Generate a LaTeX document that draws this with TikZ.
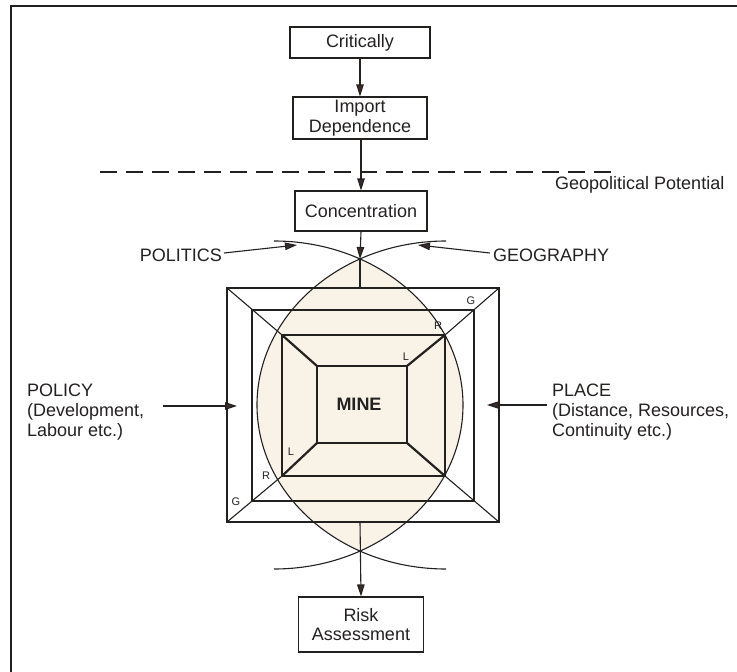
\documentclass[tikz,border=0pt]{standalone}
\usepackage{fontspec}
\setmainfont{Liberation Sans}
\usetikzlibrary{arrows.meta}
\definecolor{ink}{RGB}{35,32,32}
\definecolor{tipc}{RGB}{58,44,40}
\definecolor{lensfill}{RGB}{248,242,231}
\begin{document}
\begin{tikzpicture}[x=1pt,y=-1pt,
  box/.style={draw=ink,line width=1.1pt,align=center,inner sep=0pt,text=ink,
              font=\fontsize{18}{19.5}\selectfont},
  thinline/.style={draw=ink,line width=1.1pt},
  boldline/.style={draw=ink,line width=2.2pt},
  arr/.style={draw=ink,line width=1.1pt,-{Triangle[length=12pt,width=7.5pt,fill=tipc]}},
  lbl/.style={inner sep=0pt,text=ink,align=left,font=\fontsize{18}{20}\selectfont},
  corner/.style={inner sep=0pt,text=ink,font=\fontsize{11}{12}\selectfont}]

\useasboundingbox (0,0) rectangle (737,672);

% frame
\draw[ink,line width=2pt] (11,672) -- (11,6) -- (737,6);

% lens fill
\begin{scope}
  \clip (274,405) ellipse [x radius=189,y radius=164];
  \fill[lensfill] (446,405) ellipse [x radius=189,y radius=164];
\end{scope}

% boxes
\node[box,minimum width=140pt,minimum height=31pt] (crit) at (360,42.5) {Critically};
\node[box,minimum width=134pt,minimum height=42pt] (imp) at (360,118) {Import\\Dependence};
\node[box,minimum width=132pt,minimum height=40pt] (conc) at (361,211) {Concentration};
\node[box,minimum width=125pt,minimum height=55pt] (risk) at (361,624.5) {Risk\\Assessment};

% dashed divider
\coordinate (dashA) at (100,172);
\coordinate (dashB) at (618,172);
\draw[ink,line width=1.1pt,dash pattern=on 17pt off 9pt] (dashA) -- (dashB);
\node[lbl,anchor=west] (geo) at (555,185) {Geopolitical Potential};

% squares
\coordinate (o1) at (227,288); \coordinate (o2) at (499,288);
\coordinate (o3) at (499,522); \coordinate (o4) at (227,522);
\coordinate (r1) at (282,335); \coordinate (r2) at (445,335);
\coordinate (r3) at (445,476); \coordinate (r4) at (282,476);
\coordinate (i1) at (317,366); \coordinate (i2) at (407,366);
\coordinate (i3) at (407,443); \coordinate (i4) at (317,443);
\draw[thinline] (o1) rectangle (o3);
\draw[thinline] (252,310) rectangle (474,501);
\draw[boldline] (r1) rectangle (r3);
\draw[boldline] (i1) rectangle (i3);
\foreach \a/\b in {o1/r1,o2/r2,o3/r3,o4/r4} \draw[thinline] (\a) -- (\b);
\foreach \a/\b in {r1/i1,r2/i2,r3/i3,r4/i4} \draw[boldline] (\a) -- (\b);

% lens arcs
\draw[thinline] (274,241) arc[start angle=-90,end angle=90,x radius=189,y radius=164];
\draw[thinline] (446,241) arc[start angle=270,end angle=90,x radius=189,y radius=164];

% centre line
\coordinate (lenstop) at (360,259);
\coordinate (sqtop) at (360,288);
\coordinate (sqbot) at (360,522);
\draw[arr] (crit.south) -- (imp.north);
\draw[arr] (imp.south) -- (conc.south |- imp.south) -- (conc.north);
\draw[arr] (conc.south) -- (lenstop);
\draw[thinline] (lenstop) -- (sqtop);
\draw[arr] (sqbot) -- (risk.north);

% labels
\node[corner] (g1) at (471,301) {G};
\node[corner] (rr1) at (438,326) {R};
\node[corner] (l1) at (406,357) {L};
\node[corner] (l2) at (291,452) {L};
\node[corner] (rr2) at (266,476) {R};
\node[corner] (g2) at (236,502) {G};
\node[inner sep=0pt,text=ink,font=\bfseries\fontsize{18}{20}\selectfont] (mine) at (359,404) {MINE};

% side influences
\node[lbl,anchor=east] (politics) at (222,255) {POLITICS};
\node[lbl,anchor=west] (geog) at (493,255) {GEOGRAPHY};
\coordinate (polt) at (297,245);
\coordinate (geot) at (418,245);
\draw[arr] ([xshift=2pt,yshift=2pt]politics.east) -- (polt);
\draw[arr] ([xshift=-3pt,yshift=2pt]geog.west) -- (geot);

\node[lbl,anchor=west] (policy) at (27,412) {POLICY\\(Development,\\Labour etc.)};
\node[lbl,anchor=west] (place) at (552,412) {PLACE\\(Distance, Resources,\\Continuity etc.)};
\coordinate (pa) at (163,406); \coordinate (pb) at (237,406);
\coordinate (qa) at (547,405); \coordinate (qb) at (487,405);
\draw[arr] (pa) -- (pb);
\draw[arr] (qa) -- (qb);
\end{tikzpicture}
\end{document}
